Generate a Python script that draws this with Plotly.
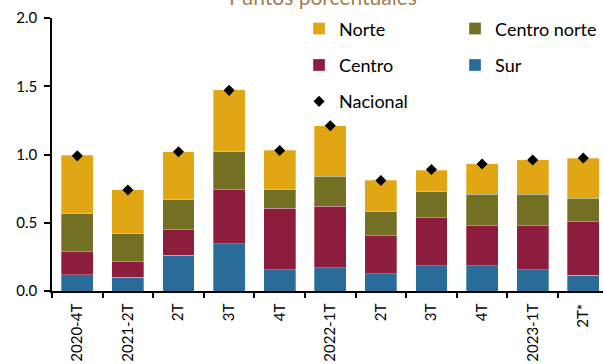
import plotly.graph_objects as go

# Quarters on the x axis (duplicated quarter names, so positions are numeric)
labels = ["2020-4T", "2021-2T", "2T", "3T", "4T", "2022-1T", "2T", "3T", "4T", "2023-1T", "2T*"]

# Contributions by region, percentage points
sur = [0.118, 0.100, 0.262, 0.348, 0.155, 0.172, 0.128, 0.186, 0.186, 0.155, 0.115]
centro = [0.171, 0.115, 0.187, 0.395, 0.452, 0.450, 0.276, 0.350, 0.291, 0.322, 0.392]
centro_norte = [0.277, 0.204, 0.220, 0.279, 0.133, 0.220, 0.176, 0.191, 0.233, 0.233, 0.173]
norte = [0.427, 0.324, 0.353, 0.452, 0.293, 0.368, 0.233, 0.159, 0.222, 0.250, 0.294]
nacional = [0.99, 0.74, 1.02, 1.47, 1.03, 1.21, 0.81, 0.89, 0.93, 0.96, 0.975]

x = list(range(len(labels)))
FONT = "Lato, 'Open Sans', sans-serif"

series = [
    ("Sur", sur, "#296b99", "legend2", 4),
    ("Centro", centro, "#8c1d3c", "legend", 3),
    ("Centro norte", centro_norte, "#747023", "legend2", 2),
    ("Norte", norte, "#e1a614", "legend", 1),
]

fig = go.Figure()
for name, vals, color, leg, rank in series:
    fig.add_trace(go.Bar(
        x=x, y=vals, name=name,
        marker=dict(color=color, line=dict(color="rgba(255,255,255,0.5)", width=0.6)),
        width=0.63,
        legend=leg, legendgroup=name, legendrank=rank,
    ))

fig.add_trace(go.Scatter(
    x=x, y=nacional, name="Nacional", mode="markers",
    marker=dict(symbol="diamond", size=8.5, color="black"),
    legend="legend", legendgroup="Nacional", legendrank=5,
))

_LEG = dict(
    font=dict(size=18, color="black", family=FONT),
    bgcolor="rgba(0,0,0,0)",
    yanchor="top", xanchor="left",
    tracegroupgap=10,
    traceorder="grouped",
)

fig.update_layout(
    width=603, height=364,
    barmode="stack",
    paper_bgcolor="white", plot_bgcolor="white",
    font=dict(family=FONT, color="black"),
    margin=dict(l=52, r=0, t=18, b=73, autoexpand=False),
    xaxis=dict(
        range=[-0.5, 10.39],
        tickmode="array", tickvals=x, ticktext=labels,
        tickangle=-90, tickfont=dict(size=15, color="black"),
        ticks="", showgrid=False, zeroline=False,
        showline=True, linecolor="black", linewidth=1.5,
        minor=dict(tick0=-0.5, dtick=1, ticks="outside", ticklen=5,
                   tickcolor="black", tickwidth=1.5),
        ticklabelstandoff=5,
    ),
    yaxis=dict(
        range=[0, 2], dtick=0.5, tickformat=".1f",
        tickfont=dict(size=15, color="black"),
        ticks="outside", ticklen=6, tickcolor="black", tickwidth=1.5,
        showgrid=False, zeroline=False,
        showline=True, linecolor="black", linewidth=1.5,
        ticklabelstandoff=4,
    ),
    legend=dict(x=0.4484, y=1.028, **_LEG),
    legend2=dict(x=0.7315, y=1.028, **_LEG),
    annotations=[dict(
        text="Puntos porcentuales", xref="paper", yref="paper",
        x=0.491, y=1.080, xanchor="center", yanchor="middle",
        showarrow=False, font=dict(size=21, color="#a0804f", family=FONT),
    )],
)

# drop the default body margin so the figure sits at the window's corner
fig.write_html(
    "out.html",
    config={"displayModeBar": False},
    post_script="document.body.style.margin='0';",
)
